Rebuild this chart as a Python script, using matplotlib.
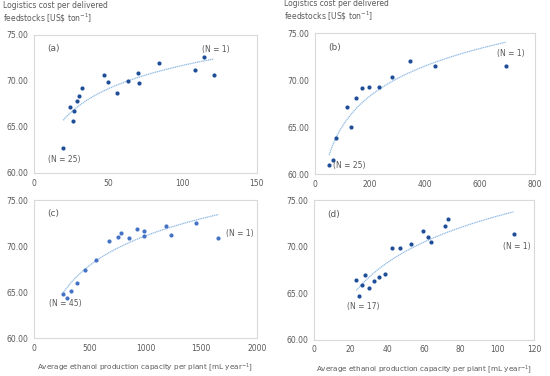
import numpy as np
import matplotlib
matplotlib.use("Agg")
from matplotlib import pyplot as plt

# (a)
xa = [19.6, 24.5, 25.9, 27.0, 28.8, 30.1, 32.2, 47.2, 49.9, 55.8, 63.2, 70.2, 70.6, 84.1, 108.4, 114.5, 120.9]
ya = [62.71, 67.16, 65.64, 66.72, 67.77, 68.42, 69.22, 70.66, 69.90, 68.64, 70.05, 70.92, 69.80, 72.00, 71.17, 72.61, 70.63]
# (b)
xb = [50.9, 66.7, 75.2, 115, 130.9, 147.9, 172, 197.6, 232.7, 278.8, 344, 436, 693]
yb = [61.00, 61.49, 63.80, 67.18, 65.05, 68.07, 69.21, 69.24, 69.28, 70.34, 72.01, 71.55, 71.48]
# (c)
xc = [255, 291, 327, 387, 459, 555, 675, 756, 783, 852, 927, 990, 987, 1181, 1226, 1451, 1655]
yc = [64.83, 64.39, 65.12, 66.03, 67.44, 68.43, 70.53, 70.97, 71.40, 70.89, 71.84, 71.66, 71.08, 72.20, 71.15, 72.53, 70.82]
# (d)
xd = [23.1, 24.5, 26.3, 28.0, 30.1, 32.5, 35.4, 38.9, 42.5, 46.7, 52.8, 59.7, 62.3, 63.7, 71.2, 73.2, 108.8]
yd = [66.42, 64.67, 65.90, 67.00, 65.60, 66.28, 66.71, 67.03, 69.90, 69.83, 70.26, 71.63, 71.02, 70.48, 72.24, 72.92, 71.38]
n_big = [25, 25, 45, 17]

ylab = "Logistics cost per delivered\nfeedstocks [US\\$ ton$^{-1}$]"
xlab = "Average ethanol production capacity per plant [mL year$^{-1}$]"
grey = '#595959'

fig = plt.figure(figsize=(5.5, 3.76), dpi=100)
plt.rcParams['font.family'] = 'DejaVu Sans'

panels = [
    # data, rect, xmax, xtick step, color, tag, (N = big) pos, (N = 1) pos
    (xa, ya, [0.062, 0.540, 0.405, 0.367], 150, 50, '#1f4e99', '(a)', (20, 61.5, 'center'), (113, 73.4, 'left')),
    (xb, yb, [0.573, 0.537, 0.400, 0.375], 800, 200, '#1f4e99', '(b)', (65, 60.9, 'left'), (662, 72.8, 'left')),
    (xc, yc, [0.062, 0.101, 0.405, 0.367], 2000, 500, '#4472c4', '(c)', (280, 63.7, 'center'), (1720, 71.4, 'left')),
    (xd, yd, [0.571, 0.096, 0.400, 0.372], 120, 20, '#1f4e99', '(d)', (27, 63.6, 'center'), (103, 70.0, 'left')),
]

for i, (x, y, rect, xmax, step, col, tag, nbig, none) in enumerate(panels):
    ax = fig.add_axes(rect)
    x = np.array(x)
    y = np.array(y)
    # excel style logarithmic trendline
    a, b = np.polyfit(np.log(x), y, 1)
    xf = np.linspace(x.min(), x.max(), 200)
    ax.plot(xf, a * np.log(xf) + b, color='#8fb9e3', lw=0.9, ls=(0, (1, 0.5)))
    ax.scatter(x, y, s=9, color=col, zorder=3, linewidths=0)
    ax.set_xlim(0, xmax)
    ax.set_ylim(60, 75)
    ax.set_xticks(np.arange(0, xmax + 1, step))
    ax.set_yticks([60, 65, 70, 75])
    ax.set_yticklabels(['60.00', '65.00', '70.00', '75.00'])
    ax.tick_params(length=0, labelsize=5.5, labelcolor=grey, pad=4)
    for s in ax.spines.values():
        s.set_color('#d9d9d9')
        s.set_linewidth(0.8)
    ax.text(0.06, 0.9, tag, transform=ax.transAxes, fontsize=6.5, color=grey, va='center')
    ax.text(nbig[0], nbig[1], '(N = %d)' % n_big[i],
            fontsize=5.5, color=grey, ha=nbig[2], va='center')
    ax.text(none[0], none[1], '(N = 1)', fontsize=5.5, color=grey, ha=none[2], va='center')
    if i < 2:
        ax.text(-0.14, 1.075, ylab, transform=ax.transAxes, fontsize=5.5, color=grey,
                ha='left', va='bottom', linespacing=1.1)
    else:
        ax.set_xlabel(xlab, fontsize=5.2, color=grey, labelpad=6)

fig.savefig('out.png', dpi=100)
